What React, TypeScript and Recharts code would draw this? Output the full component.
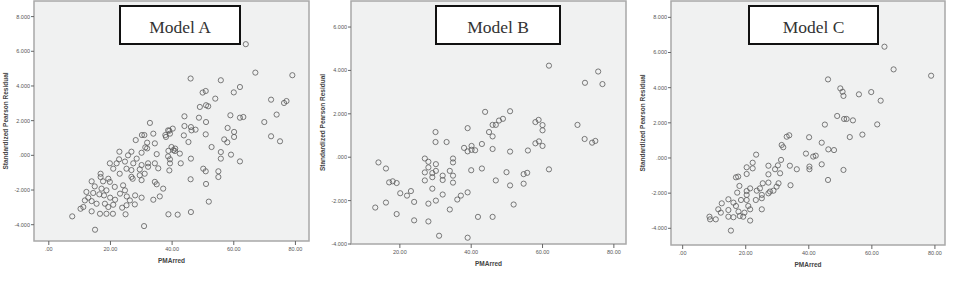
import { ScatterChart, Scatter, XAxis, YAxis, ReferenceArea, Label } from "recharts";

// tick values
const xTicksAC = [0, 20, 40, 60, 80];
const xTicksB = [20, 40, 60, 80];
const yTicksAC = [-4, -2, 0, 2, 4, 6, 8];
const yTicksB = [-4, -2, 0, 2, 4, 6];

// Model A: PMArred vs standardized Pearson residual
const modelAX = [
  32.8, 44.0, 44.0, 33.9, 31.0, 37.8, 39.1, 28.2, 31.9, 34.4, 31.3, 31.9, 26.8, 30.1, 35.0, 22.9, 38.8, 41.0,
  42.5, 42.8, 39.3, 39.3, 19.8, 22.0, 24.7, 27.4, 30.1, 32.2, 34.4, 26.8, 29.5, 32.2, 35.5, 26.8, 30.1, 34.4,
  16.8, 16.8, 13.9, 14.9, 17.6, 19.3, 19.8, 21.4, 24.1, 24.7, 23.1, 25.3, 28.0, 30.1, 12.2, 14.4, 16.4, 17.9,
  19.9, 21.5, 11.7, 13.9, 15.5, 18.2, 19.3, 20.9, 11.2, 10.3, 13.9, 16.6, 18.7, 20.8, 23.8, 24.9, 27.9, 7.6,
  15.0, 30.9, 38.8, 41.8, 33.9, 36.0, 37.1, 35.0, 46.1, 22.8, 25.7, 28.5, 27.2, 29.5, 31.1, 25.2, 23.0, 20.9,
  17.1, 18.7, 12.8, 25.2, 26.3, 63.9, 46.0, 55.8, 67.0, 79.0, 62.0, 60.0, 49.9, 50.9, 54.0, 49.0, 51.0, 51.7,
  72.1, 76.3, 77.1, 73.9, 69.9, 58.9, 62.0, 63.1, 48.7, 51.0, 46.1, 47.6, 46.3, 58.0, 60.1, 60.1, 72.1, 75.0,
  50.9, 43.8, 45.3, 56.9, 57.9, 52.8, 55.8, 59.1, 55.8, 62.0, 46.1, 50.1, 50.9, 55.0, 55.0, 46.0, 39.8, 40.4,
  40.9, 38.7, 39.3, 38.0, 38.7, 39.1, 51.9, 51.0, 40.2, 30.2,
];
const modelAY = [
  1.87, 2.25, 1.69, 1.25, 1.17, 1.17, 1.42, 0.88, 0.73, 0.69, 0.46, 0.4, 0.21, 0.15, 0.07, 0.21, 0.26, 0.39,
  0.1, -0.46, -0.23, -0.46, -0.46, -0.46, -0.36, -0.46, -0.56, -0.46, -0.46, -0.85, -0.81, -0.66, -0.75, -1.24, -1.43, -1.53,
  -1.06, -1.25, -1.5, -1.79, -1.5, -1.35, -1.53, -1.82, -1.73, -2.02, -2.21, -2.37, -2.31, -2.44, -2.11, -2.17, -2.25, -2.31,
  -2.44, -2.56, -2.6, -2.64, -2.79, -2.79, -2.98, -2.85, -2.98, -3.08, -3.23, -3.37, -3.37, -3.37, -3.02, -3.4, -2.83, -3.52,
  -4.29, -4.08, -3.4, -3.42, -2.56, -2.37, -1.92, -1.67, -3.27, -0.23, 0.0, -0.19, -1.35, -1.15, -1.06, -0.77, -1.06, -0.77,
  -1.92, -2.02, -2.44, -2.88, -2.6, 6.41, 4.43, 4.33, 4.77, 4.62, 3.94, 3.63, 3.62, 3.71, 3.27, 2.79, 2.89, 2.83,
  3.21, 3.02, 3.13, 2.35, 1.92, 2.31, 2.17, 2.21, 2.17, 1.92, 1.63, 1.48, 1.44, 1.58, 1.35, 1.06, 1.1, 0.81,
  1.21, 1.15, 0.77, 0.92, 0.75, 0.48, 0.19, 0.04, -0.19, -0.35, -0.19, -0.77, -0.92, -0.92, -1.25, -1.38, 0.48, 0.3,
  0.25, 1.44, 1.25, 1.06, -0.06, -0.87, -2.67, -1.65, 1.54, 1.17,
];

// Model B
const modelBX = [
  61.8, 75.6, 71.9, 76.8, 43.9, 50.9, 69.8, 71.8, 73.9, 74.8, 58.0, 58.9, 60.0, 60.0, 58.0, 59.0, 60.0, 55.9,
  61.8, 46.0, 46.9, 47.8, 48.9, 45.0, 46.0, 46.0, 50.9, 43.0, 39.0, 38.0, 39.0, 40.1, 41.1, 40.1, 30.0, 30.0,
  33.1, 14.0, 16.1, 27.0, 28.0, 27.0, 28.0, 30.1, 29.1, 30.1, 29.1, 27.0, 32.0, 32.0, 34.0, 34.9, 34.9, 34.9,
  34.9, 29.1, 32.0, 36.1, 37.1, 39.0, 40.0, 43.0, 46.9, 49.9, 50.9, 51.9, 54.7, 55.7, 54.7, 17.0, 18.0, 19.1,
  20.1, 22.0, 23.1, 24.0, 16.1, 13.1, 19.1, 24.0, 28.0, 28.0, 30.1, 34.0, 31.0, 39.0, 41.9, 46.0,
];
const modelBY = [
  4.22, 3.95, 3.43, 3.37, 2.09, 2.12, 1.49, 0.84, 0.67, 0.75, 1.62, 1.72, 1.48, 1.24, 0.64, 0.73, 0.52, 0.31,
  -0.56, 1.49, 1.49, 1.69, 1.77, 1.16, 0.96, 0.38, 0.26, 0.61, 1.34, 0.43, 0.27, 0.52, 0.32, 0.34, 1.16, 0.7,
  0.7, -0.24, -0.52, -0.06, -0.21, -0.7, -0.47, -0.32, -0.73, -0.63, -0.92, -1.07, -0.85, -1.05, -0.63, -0.06, -0.24, -0.85,
  -1.17, -1.45, -1.72, -1.95, -1.77, -1.62, -0.6, -0.52, -1.07, -0.69, -1.3, -2.18, -0.78, -0.72, -1.22, -1.16, -1.11, -1.19,
  -1.66, -1.77, -1.56, -2.06, -2.09, -2.32, -2.62, -2.91, -2.96, -2.14, -2.0, -2.41, -3.62, -3.71, -2.75, -2.75,
];

// Model C
const modelCX = [
  64.0, 66.9, 78.8, 46.1, 50.0, 50.7, 51.0, 55.9, 59.8, 62.8, 49.0, 51.2, 52.0, 54.0, 45.1, 61.7, 53.0, 57.0,
  33.8, 33.0, 40.1, 44.1, 46.2, 48.0, 39.1, 41.4, 42.2, 44.1, 40.2, 40.2, 36.2, 34.0, 51.0, 31.4, 31.9, 31.2,
  46.1, 34.2, 23.3, 22.2, 22.2, 20.3, 20.3, 27.2, 27.2, 29.3, 30.9, 16.9, 17.6, 18.0, 17.3, 20.3, 21.4, 23.5,
  24.5, 25.4, 27.2, 25.1, 25.1, 27.7, 28.8, 29.8, 30.4, 27.2, 25.1, 20.3, 20.3, 20.8, 21.4, 18.5, 16.1, 14.5,
  12.4, 11.3, 12.1, 14.5, 14.5, 16.1, 17.7, 19.2, 19.6, 21.4, 8.5, 8.7, 10.5, 15.3, 16.9, 18.1, 23.2, 30.2,
];
const modelCY = [
  6.33, 5.04, 4.68, 4.47, 3.96, 3.77, 3.53, 3.62, 3.75, 3.26, 2.39, 2.22, 2.22, 2.14, 1.9, 1.91, 1.19, 1.33,
  1.29, 1.21, 1.18, 0.87, 0.49, 0.45, 0.25, 0.08, 0.13, -0.36, -0.49, -0.64, -0.64, -0.44, -0.68, 0.74, 0.61, -0.11,
  -1.25, -1.55, 0.19, -0.27, -0.59, -0.53, -0.91, -0.44, -0.93, -0.64, -0.87, -1.1, -1.06, -1.59, -1.97, -1.88, -1.73, -1.86,
  -1.73, -1.44, -1.4, -2.1, -2.29, -1.91, -1.86, -1.63, -1.44, -2.01, -2.92, -2.1, -2.39, -2.73, -2.92, -2.39, -2.54, -2.35,
  -2.58, -2.92, -3.11, -2.96, -3.34, -3.37, -3.05, -3.34, -3.11, -3.56, -3.34, -3.49, -3.49, -4.13, -2.73, -3.3, -2.39, -0.42,
];

const fmtY = (v: number) => (v === 0 ? ".000" : v.toFixed(3));
const fmtX = (v: number) => (v === 0 ? ".00" : v.toFixed(2));

const Ring = (p: any) => (
  <circle cx={p.cx} cy={p.cy} r={2.6} fill="none" stroke="#5a5a5a" strokeWidth={0.8} />
);

const tickStyle = { fontSize: 5.5, fill: "#555", fontFamily: "Liberation Sans, Arial, sans-serif" };
const labelStyle = { fontSize: 6.5, fontWeight: 700, fill: "#444", fontFamily: "Liberation Sans, Arial, sans-serif" };

type PanelProps = {
  title: string;
  xs: number[];
  ys: number[];
  left: number;
  width: number;
  yAxisWidth: number;
  marginRight: number;
  xAxisHeight: number;
  xDomain: [number, number];
  yDomain: [number, number];
  xTicks: number[];
  yTicks: number[];
  boxLeft: number;
  boxWidth: number;
};

function Panel(p: PanelProps) {
  const data = p.xs.map((x, i) => ({ x, y: p.ys[i] }));
  return (
    <div style={{ position: "absolute", left: p.left, top: 0, width: p.width, height: 284 }}>
      <ScatterChart
        width={p.width}
        height={284}
        margin={{ top: 1, right: p.marginRight, bottom: 0, left: 0 }}
      >
        <ReferenceArea
          x1={p.xDomain[0]}
          x2={p.xDomain[1]}
          y1={p.yDomain[0]}
          y2={p.yDomain[1]}
          fill="#f0f1f1"
          fillOpacity={1}
          stroke="#a8a8a8"
          strokeWidth={1.5}
        />
        <XAxis
          type="number"
          dataKey="x"
          domain={p.xDomain}
          ticks={p.xTicks}
          allowDataOverflow
          height={p.xAxisHeight}
          axisLine={false}
          tickLine={{ stroke: "#666" }}
          tickSize={4}
          tickMargin={2}
          tick={tickStyle}
          tickFormatter={fmtX}
        >
          <Label value="PMArred" position="insideTop" offset={17} style={labelStyle} />
        </XAxis>
        <YAxis
          type="number"
          dataKey="y"
          domain={p.yDomain}
          ticks={p.yTicks}
          allowDataOverflow
          width={p.yAxisWidth}
          axisLine={false}
          tickLine={{ stroke: "#666" }}
          tickSize={3}
          tickMargin={1}
          tick={tickStyle}
          tickFormatter={fmtY}
        >
          <Label
            value="Standardized Pearson Residual"
            angle={-90}
            position="insideLeft"
            offset={p.yAxisWidth - 28}
            style={{ ...labelStyle, textAnchor: "middle" }}
          />
        </YAxis>
        <Scatter data={data} shape={Ring} isAnimationActive={false} />
      </ScatterChart>
      <div
        style={{
          position: "absolute",
          left: p.boxLeft - p.left,
          top: 5,
          width: p.boxWidth,
          height: 40,
          boxSizing: "border-box",
          border: "2px solid #111",
          background: "#fff",
          overflow: "hidden",
          textAlign: "center",
          fontFamily: "Liberation Serif, Times New Roman, serif",
          fontSize: 17.5,
          lineHeight: "17.5px",
          color: "#333",
        }}
      >
        <span style={{ position: "relative", top: 12 }}>{p.title}</span>
      </div>
    </div>
  );
}

export default function App() {
  return (
    <div style={{ position: "absolute", left: 0, top: 0, width: 956, height: 284, background: "#fff" }}>
      <Panel
        title="Model A"
        xs={modelAX}
        ys={modelAY}
        left={0}
        width={320}
        yAxisWidth={34}
        marginRight={11}
        xAxisHeight={43}
        xDomain={[-4.8, 84.4]}
        yDomain={[-4.94, 8.9]}
        xTicks={xTicksAC}
        yTicks={yTicksAC}
        boxLeft={119}
        boxWidth={122}
      />
      <Panel
        title="Model B"
        xs={modelBX}
        ys={modelBY}
        left={310}
        width={320}
        yAxisWidth={41}
        marginRight={4}
        xAxisHeight={40}
        xDomain={[6.3, 83.4]}
        yDomain={[-4.0, 7.2]}
        xTicks={xTicksB}
        yTicks={yTicksB}
        boxLeft={435}
        boxWidth={126}
      />
      <Panel
        title="Model C"
        xs={modelCX}
        ys={modelCY}
        left={630}
        width={326}
        yAxisWidth={41}
        marginRight={11}
        xAxisHeight={39}
        xDomain={[-3.7, 83.2]}
        yDomain={[-4.95, 8.93]}
        xTicks={xTicksAC}
        yTicks={yTicksAC}
        boxLeft={748}
        boxWidth={131}
      />
    </div>
  );
}
